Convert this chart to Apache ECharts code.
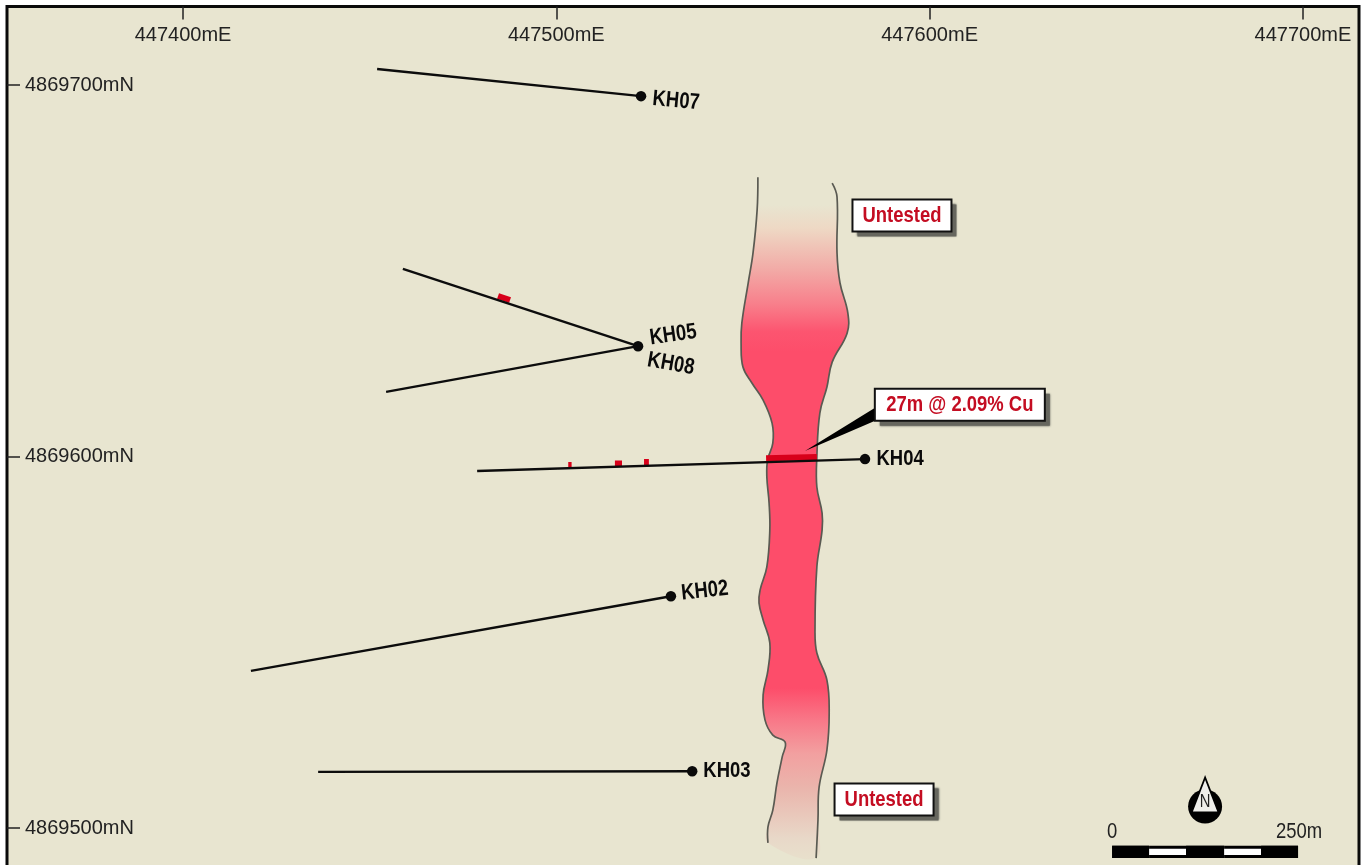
<!DOCTYPE html>
<html><head><meta charset="utf-8">
<style>html,body{margin:0;padding:0;background:#fff;width:1366px;height:865px;overflow:hidden}#c{width:1366px;height:885px}</style>
<script src="https://cdn.jsdelivr.net/npm/echarts@6/dist/echarts.min.js"></script>
</head><body><div id="c"></div>
<script>
const FONT = "'Liberation Sans',Arial,sans-serif";
// axis ticks
const eastTicks = [447400, 447500, 447600, 447700];
const northTicks = [4869500, 4869600, 4869700];
// drill holes: [collar, end of hole]
const holeNames = ['KH07', 'KH05', 'KH08', 'KH04', 'KH02', 'KH03'];
const KH07 = [[447522.7, 4869697.0], [447452.0, 4869704.3]];
const KH05 = [[447521.9, 4869629.7], [447458.9, 4869650.5]];
const KH08 = [[447521.9, 4869629.7], [447454.4, 4869617.4]];
const KH04 = [[447582.7, 4869599.3], [447478.8, 4869596.1]];
const KH02 = [[447530.7, 4869562.4], [447418.2, 4869542.3]];
const KH03 = [[447536.4, 4869515.3], [447436.2, 4869515.1]];
const holes = [KH07, KH05, KH08, KH04, KH02, KH03];
// hole label anchors
const labelE = [447532.1, 447531.3, 447530.7, 447592.1, 447539.8, 447545.7];
const labelN = [4869695.7, 4869632.7, 4869624.9, 4869599.3, 4869563.8, 4869515.3];
const labelTilt = [-5, 8, -10, 0, 6, 0];
// mineralised intercepts
const interceptMain = [[447556.2, 4869599.5], [447569.8, 4869599.9]];
const interceptA = [[447484.4, 4869643.2], [447487.6, 4869642.1]];
const interceptB = [[447503.2, 4869597.7], [447504.1, 4869597.7]];
const interceptC = [[447515.7, 4869598.1], [447517.6, 4869598.1]];
const interceptD = [[447523.5, 4869598.5], [447524.8, 4869598.5]];
const intercepts = [interceptMain, interceptA, interceptB, interceptC, interceptD];
// ore body outline
const leftEdge = [[447554.0,4869675.2],[447553.8,4869666.4],[447552.7,4869654.8],[447551.4,4869646.7],[447549.7,4869635.9],[447549.5,4869630.6],[447550.0,4869624.1],[447552.4,4869619.8],[447555.4,4869615.2],[447557.8,4869609.0],[447558.0,4869603.6],[447556.6,4869599.1],[447556.4,4869594.5],[447557.0,4869587.5],[447557.2,4869580.2],[447556.4,4869570.3],[447554.6,4869564.1],[447554.3,4869560.6],[447555.4,4869556.0],[447557.2,4869549.8],[447556.7,4869542.5],[447555.4,4869535.8],[447555.9,4869529.1],[447558.0,4869525.0],[447561.3,4869523.1],[447560.5,4869519.1],[447559.1,4869512.1],[447558.0,4869504.8],[447556.7,4869500.3],[447556.7,4869496.0]];
const rightEdge = [[447573.9,4869673.6],[447575.2,4869669.9],[447575.2,4869654.8],[447576.0,4869646.7],[447578.1,4869638.6],[447577.9,4869633.2],[447573.9,4869625.4],[447572.5,4869618.7],[447570.6,4869611.7],[447569.8,4869599.9],[447569.8,4869591.8],[447571.2,4869584.8],[447571.2,4869580.2],[447569.8,4869570.3],[447569.3,4869553.3],[447569.8,4869547.1],[447572.5,4869539.8],[447573.1,4869531.0],[447572.5,4869521.0],[447570.4,4869511.0],[447570.1,4869502.2],[447569.6,4869491.9]];
// call-outs
const boxTexts = ['Untested', 'Untested', '27m @ 2.09% Cu'];
const boxE = [447592.6, 447587.8, 447608.1];
const boxN = [4869664.9, 4869507.7, 4869613.9];
const pointer = [[447566.6, 4869601.5], [447585.4, 4869613.1], [447585.4, 4869609.6]];
// scale bar (edges of the alternating cells) and north arrow
const scaleEdges = [447648.9, 447658.8, 447668.7, 447678.9, 447688.8, 447698.7];
const scaleN = [4869495.2, 4869491.9];
const scaleTexts = ['0', '250m'];
const scaleTextE = [447648.9, 447699.0];
const scaleTextN = [4869499, 4869499];
const northAnchor = [447673.8, 4869505.8];

const chart = echarts.init(document.getElementById('c'), null, {renderer: 'canvas'});
const bodyPts = leftEdge.concat(rightEdge.slice().reverse());
const SMOOTH = 0.4;
const NARROW = 0.82;
// condensed text element: no narrow face is installed, so the regular face is squeezed
const squeezed = (text, c, o) => ({
  type: 'text', x: c[0], y: c[1], scaleX: o.scaleX || NARROW, rotation: (o.rotate || 0) * Math.PI / 180, originX: 0, originY: 0,
  style: {text, fill: o.color, fontFamily: FONT, fontWeight: o.weight || 'normal', fontSize: o.size, align: 'center', verticalAlign: 'middle'}
});

const series = [];
series.push({
  type: 'custom', coordinateSystem: 'cartesian2d', z: 2, silent: true, clip: false,
  data: bodyPts, encode: {x: 0, y: 1},
  renderItem: (params, api) => {
    if (params.dataIndex !== 0) return null;
    const pts = bodyPts.map(p => api.coord(p));
    return {type: 'group', children: [
      {type: 'polygon', shape: {points: pts, smooth: SMOOTH},
      style: {lineWidth: 0, fill: new echarts.graphic.LinearGradient(0, 0, 0, 1, [
        {offset: 0, color: '#e8e5d0'}, {offset: 0.045, color: '#e8e5d0'},
        {offset: 0.08, color: '#eed8c4'}, {offset: 0.14, color: '#f2aaa6'},
        {offset: 0.19, color: '#f87f8b'}, {offset: 0.23, color: '#fc5570'},
        {offset: 0.26, color: '#fd4d6a'}, {offset: 0.75, color: '#fd4d6a'},
        {offset: 0.797, color: '#f87888'}, {offset: 0.846, color: '#f2a0a0'},
        {offset: 0.896, color: '#eab5ac'}, {offset: 0.969, color: '#e8d8c8'},
        {offset: 1, color: '#e8e0cc'}])}},
      {type: 'polyline', shape: {points: leftEdge.map(p => api.coord(p)), smooth: SMOOTH},
        style: {fill: null, stroke: '#5a5a52', lineWidth: 1.7}},
      {type: 'polyline', shape: {points: rightEdge.map(p => api.coord(p)), smooth: SMOOTH},
        style: {fill: null, stroke: '#5a5a52', lineWidth: 1.7}}
    ]};
  }
});
intercepts.forEach(d => series.push({
  type: 'line', data: d, showSymbol: false, symbol: 'none', z: 4, silent: true,
  lineStyle: {color: '#d8001a', width: 6, cap: 'butt'}
}));
holes.forEach(d => series.push({
  type: 'line', data: d, showSymbol: false, symbol: 'none', z: 5, silent: true,
  lineStyle: {color: '#0c0c0c', width: 2.4}
}));
series.push({
  type: 'scatter', z: 6, silent: true, symbol: 'circle', symbolSize: 10.5,
  itemStyle: {color: '#0a0a0a', opacity: 1},
  data: [KH07[0], KH05[0], KH04[0], KH02[0], KH03[0]]
});
// hole names
series.push({
  type: 'custom', coordinateSystem: 'cartesian2d', z: 7, silent: true, clip: false,
  data: holeNames.map((n, i) => [labelE[i], labelN[i], i]), encode: {x: 0, y: 1},
  renderItem: (params, api) => {
    const i = params.dataIndex;
    return squeezed(holeNames[i], api.coord([labelE[i], labelN[i]]),
      {size: 22.5, weight: 'bold', color: '#0a0a0a', rotate: labelTilt[i]});
  }
});
// pointer
series.push({
  type: 'custom', coordinateSystem: 'cartesian2d', z: 6, silent: true, clip: false,
  data: pointer, encode: {x: 0, y: 1},
  renderItem: (params, api) => params.dataIndex !== 0 ? null :
    ({type: 'polygon', shape: {points: pointer.map(p => api.coord(p))}, style: {fill: '#000'}})
});
// call-out boxes
series.push({
  type: 'custom', coordinateSystem: 'cartesian2d', z: 8, silent: true, clip: false,
  data: boxTexts.map((t, i) => [boxE[i], boxN[i], i]), encode: {x: 0, y: 1},
  renderItem: (params, api) => {
    const i = params.dataIndex, c = api.coord([boxE[i], boxN[i]]);
    const w = i === 2 ? 170 : 99, h = 32;
    return {type: 'group', children: [
      {type: 'rect', shape: {x: c[0] - w / 2 + 5, y: c[1] - h / 2 + 5, width: w, height: h},
        style: {fill: '#66665e', shadowBlur: 2, shadowColor: '#66665e'}},
      {type: 'rect', shape: {x: c[0] - w / 2, y: c[1] - h / 2, width: w, height: h},
        style: {fill: '#fff', stroke: '#111', lineWidth: 2}},
      squeezed(boxTexts[i], c, {size: 22.5, weight: 'bold', color: '#c40d22'})
    ]};
  }
});
// scale bar
series.push({
  type: 'custom', coordinateSystem: 'cartesian2d', z: 6, silent: true, clip: false,
  data: scaleEdges.slice(0, -1).map((e, i) => [e, scaleEdges[i + 1], i]),
  encode: {x: [0, 1]},
  renderItem: (params, api) => {
    const a = api.coord([api.value(0), scaleN[0]]), b = api.coord([api.value(1), scaleN[1]]);
    const odd = api.value(2) % 2 === 1, inset = odd ? 3 : 0;
    return {type: 'group', children: [
      {type: 'rect', shape: {x: a[0], y: a[1], width: b[0] - a[0], height: b[1] - a[1]}, style: {fill: '#000'}},
      {type: 'rect', shape: {x: a[0], y: a[1] + inset, width: b[0] - a[0], height: b[1] - a[1] - 2 * inset},
        style: {fill: odd ? '#fff' : '#000'}}
    ]};
  }
});
series.push({
  type: 'custom', coordinateSystem: 'cartesian2d', z: 7, silent: true, clip: false,
  data: scaleTexts.map((t, i) => [scaleTextE[i], scaleTextN[i]]), encode: {x: 0, y: 1},
  renderItem: (params, api) => {
    const i = params.dataIndex;
    return squeezed(scaleTexts[i], api.coord([scaleTextE[i], scaleTextN[i]]), {size: 22.5, color: '#222'});
  }
});
// north arrow
series.push({
  type: 'custom', coordinateSystem: 'cartesian2d', z: 7, silent: true, clip: false,
  data: [northAnchor], encode: {x: 0, y: 1},
  renderItem: (params, api) => {
    const c = api.coord(northAnchor);
    return {type: 'group', x: c[0], y: c[1], children: [
      {type: 'circle', shape: {cx: 0, cy: 0, r: 17}, style: {fill: '#000'}},
      {type: 'polygon', shape: {points: [[0, -29], [-13.5, 6], [13.5, 6]]}, style: {fill: '#eeeeea', stroke: '#000', lineWidth: 1.8}},
      squeezed('N', [0, -4], {size: 18, color: '#222'})
    ]};
  }
});

chart.setOption({
  animation: false,
  backgroundColor: '#fff',
  grid: {left: 7, right: 7, top: 6.5, bottom: 15, show: true, backgroundColor: '#e8e5d0', borderColor: '#0a0a0a', borderWidth: 3, containLabel: false},
  xAxis: {
    type: 'value', position: 'top', min: 447352.85, max: 447715.03, splitLine: {show: false},
    axisLine: {show: false},
    axisTick: {show: true, inside: true, length: 13, customValues: eastTicks, lineStyle: {color: '#222', width: 1.5}},
    axisLabel: {show: true, inside: true, margin: 19, customValues: eastTicks, hideOverlap: false, showMinLabel: true, showMaxLabel: true,
      formatter: v => v + 'mE', color: '#222', fontFamily: FONT, fontSize: 20}
  },
  yAxis: {
    type: 'value', min: 4869488.7, max: 4869721.13, splitLine: {show: false},
    axisLine: {show: false},
    axisTick: {show: true, inside: true, length: 13, customValues: northTicks, lineStyle: {color: '#222', width: 1.5}},
    axisLabel: {show: true, inside: true, margin: 18, customValues: northTicks,
      formatter: v => v + 'mN', color: '#222', fontFamily: FONT, fontSize: 20}
  },
  series
});
</script></body></html>
